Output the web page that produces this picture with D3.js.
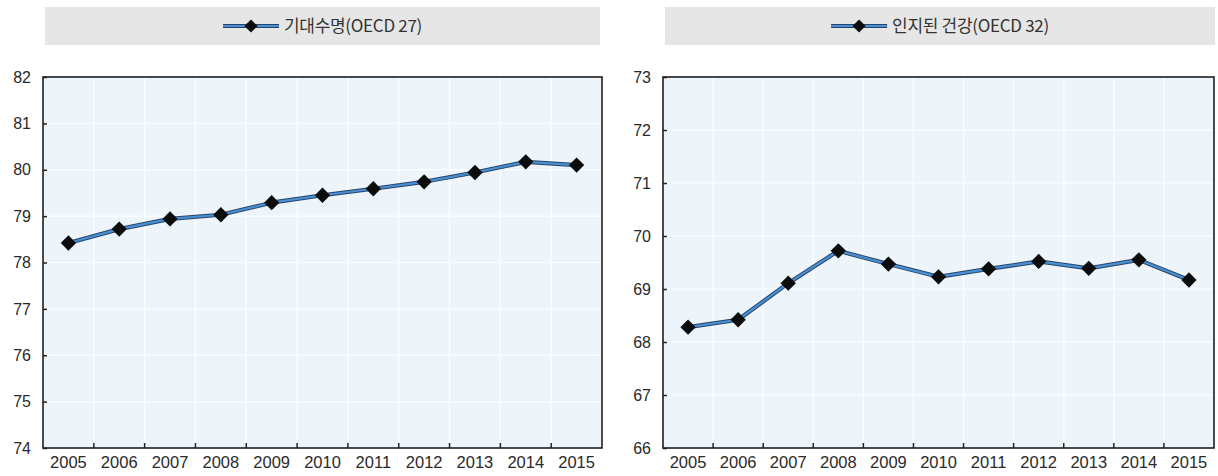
<!DOCTYPE html>
<html>
<head>
<meta charset="utf-8">
<script src="https://cdn.jsdelivr.net/npm/d3@7"></script>
<style>
  html, body { margin: 0; padding: 0; background: #ffffff; }
  svg { display: block; }
  .tick text { font-family: "Liberation Sans", Arial, sans-serif; }
</style>
</head>
<body>
<svg id="chart" width="1218" height="476"></svg>
<script>
// Years shared by both panels
const years = ["2005", "2006", "2007", "2008", "2009", "2010", "2011", "2012", "2013", "2014", "2015"];

// Life expectancy, OECD 27 average
const lifeExpectancy = [78.42, 78.72, 78.94, 79.03, 79.29, 79.45, 79.59, 79.74, 79.94, 80.17, 80.10];

// Perceived health status, OECD 32 average
const perceivedHealth = [68.28, 68.42, 69.11, 69.72, 69.47, 69.23, 69.38, 69.52, 69.39, 69.55, 69.17];

// Legend labels
const legendLeft = "기대수명(OECD 27)";
const legendRight = "인지된 건강(OECD 32)";

// Y-axis tick values
const leftTicks = [74, 75, 76, 77, 78, 79, 80, 81, 82];
const rightTicks = [66, 67, 68, 69, 70, 71, 72, 73];

const svg = d3.select("#chart");

function drawPanel(opts) {
  const { x0, x1, y0, y1, values, ticks, label, legendBox } = opts;
  const g = svg.append("g");

  const x = d3.scaleBand().domain(years).range([x0, x1]);
  const y = d3.scaleLinear().domain(d3.extent(ticks)).range([y1, y0]);

  // Legend box
  g.append("rect")
    .attr("x", legendBox[0]).attr("y", legendBox[1])
    .attr("width", legendBox[2]).attr("height", legendBox[3])
    .attr("fill", "#e6e6e6");

  // Plot background
  g.append("rect")
    .attr("x", x0).attr("y", y0)
    .attr("width", x1 - x0).attr("height", y1 - y0)
    .attr("fill", "#edf5fb");

  // Horizontal grid
  g.append("g").selectAll("line")
    .data(ticks.slice(1, -1))
    .join("line")
    .attr("x1", x0).attr("x2", x1)
    .attr("y1", d => y(d)).attr("y2", d => y(d))
    .attr("stroke", "#fbfdff").attr("stroke-width", 1.5);

  // Vertical grid at category boundaries
  g.append("g").selectAll("line")
    .data(years.slice(1))
    .join("line")
    .attr("x1", d => x(d)).attr("x2", d => x(d))
    .attr("y1", y0).attr("y2", y1)
    .attr("stroke", "#fbfdff").attr("stroke-width", 1.5);

  // Y axis (ticks inward)
  const yAxis = d3.axisLeft(y).tickValues(ticks).tickSize(-4).tickPadding(12).tickFormat(d3.format("d"));
  const ya = g.append("g").attr("transform", `translate(${x0},0)`).call(yAxis);
  ya.select(".domain").remove();
  ya.selectAll(".tick line").attr("stroke", "#222").attr("stroke-width", 1.5);
  ya.selectAll(".tick text").attr("font-size", 16).attr("fill", "#2a2a2a");

  // X axis: labels centered under each year, ticks at boundaries
  const xAxis = d3.axisBottom(x).tickSize(0).tickPadding(8);
  const xa = g.append("g").attr("transform", `translate(0,${y1})`).call(xAxis);
  xa.select(".domain").remove();
  xa.selectAll(".tick text").attr("font-size", 16.5).attr("fill", "#2a2a2a");
  g.append("g").selectAll("line")
    .data(years.slice(1))
    .join("line")
    .attr("x1", d => x(d)).attr("x2", d => x(d))
    .attr("y1", y1).attr("y2", y1 - 5)
    .attr("stroke", "#222").attr("stroke-width", 1.5);

  // Frame
  g.append("rect")
    .attr("x", x0).attr("y", y0)
    .attr("width", x1 - x0).attr("height", y1 - y0)
    .attr("fill", "none").attr("stroke", "#1e1e1e").attr("stroke-width", 1.6);

  // Series line: dark casing with blue core
  const line = d3.line()
    .x((d, i) => x(years[i]) + x.bandwidth() / 2)
    .y(d => y(d));
  g.append("path").datum(values).attr("d", line)
    .attr("fill", "none").attr("stroke", "#27456a").attr("stroke-width", 4.2)
    .attr("stroke-linejoin", "round");
  g.append("path").datum(values).attr("d", line)
    .attr("fill", "none").attr("stroke", "#4a8fd2").attr("stroke-width", 2.2)
    .attr("stroke-linejoin", "round");

  // Diamond markers
  const diamond = d3.symbol().type(d3.symbolDiamond2).size(150);
  g.append("g").selectAll("path")
    .data(values)
    .join("path")
    .attr("d", diamond)
    .attr("transform", (d, i) => `translate(${x(years[i]) + x.bandwidth() / 2},${y(d)})`)
    .attr("fill", "#0c0c0c");

  // Legend entry
  const legendCx = legendBox[0] + legendBox[2] / 2;
  const ly = legendBox[1] + legendBox[3] / 2;
  const lg = g.append("g");
  const txt = lg.append("text")
    .attr("y", ly)
    .attr("dy", "0.36em")
    .attr("font-family", "'Noto Sans CJK KR', 'Noto Sans', sans-serif")
    .attr("font-size", 17)
    .attr("letter-spacing", "-0.3px")
    .attr("fill", "#333")
    .text(label);
  const tw = txt.node().getComputedTextLength();
  const keyW = 56, gap = 5;
  const startX = legendCx - (keyW + gap + tw) / 2;
  txt.attr("x", startX + keyW + gap);
  lg.append("line")
    .attr("x1", startX).attr("x2", startX + keyW)
    .attr("y1", ly).attr("y2", ly)
    .attr("stroke", "#27456a").attr("stroke-width", 4);
  lg.append("line")
    .attr("x1", startX).attr("x2", startX + keyW)
    .attr("y1", ly).attr("y2", ly)
    .attr("stroke", "#4a8fd2").attr("stroke-width", 2);
  lg.append("path")
    .attr("d", d3.symbol().type(d3.symbolDiamond2).size(110))
    .attr("transform", `translate(${startX + keyW / 2},${ly})`)
    .attr("fill", "#0c0c0c");
}

drawPanel({
  x0: 43, x1: 602, y0: 77, y1: 448,
  values: lifeExpectancy, ticks: leftTicks, label: legendLeft,
  legendBox: [45, 7, 555, 38]
});

drawPanel({
  x0: 663, x1: 1214, y0: 77, y1: 448,
  values: perceivedHealth, ticks: rightTicks, label: legendRight,
  legendBox: [665, 7, 550, 38]
});
</script>
</body>
</html>
